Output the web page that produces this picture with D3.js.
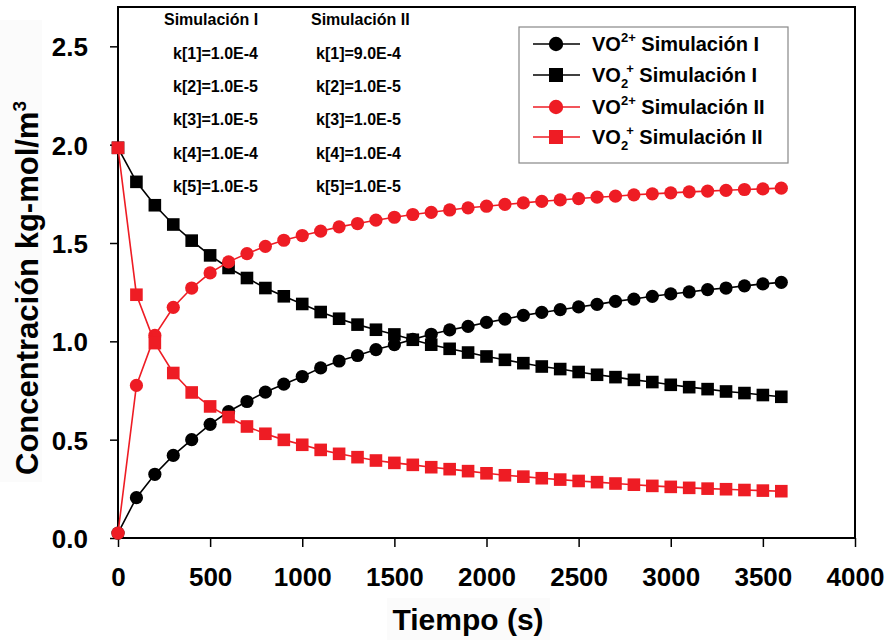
<!doctype html>
<html>
  <head>
    <script src="https://cdnjs.cloudflare.com/ajax/libs/d3/7.8.5/d3.min.js"></script>
    <style>
      body { margin: 0; background: #fff; }
      svg { font-family: "Liberation Sans", Arial, sans-serif; font-weight: bold; }
    </style>
  </head>
  <body>
    <svg width="890" height="640"></svg>

    <script>
        // tiempo (s)
        var tiempo = [0,100,200,300,400,500,600,700,800,900,1000,1100,1200,1300,1400,1500,1600,1700,1800,
                      1900,2000,2100,2200,2300,2400,2500,2600,2700,2800,2900,3000,3100,3200,3300,3400,3500,3600];

        // VO2+ Simulacion I (black circles)
        var vo2Sim1 = [0.025,0.205,0.324,0.42,0.50,0.578,0.643,0.694,0.742,0.782,0.821,0.865,0.900,0.928,0.958,0.983,
                       1.010,1.036,1.058,1.076,1.096,1.113,1.132,1.147,1.161,1.175,1.188,1.203,1.215,1.229,1.241,1.251,
                       1.263,1.271,1.282,1.292,1.30];
        // VO2+ (sub 2) Simulacion I (black squares)
        var vo2pSim1 = [1.984,1.811,1.692,1.594,1.512,1.437,1.373,1.322,1.271,1.229,1.19,1.149,1.115,1.085,1.059,1.035,
                        1.008,0.983,0.962,0.943,0.923,0.906,0.889,0.872,0.859,0.844,0.83,0.818,0.804,0.793,0.779,0.767,
                        0.757,0.745,0.737,0.727,0.718];
        // VO2+ Simulacion II (red circles)
        var vo2Sim2 = [0.025,0.776,1.03,1.173,1.271,1.348,1.404,1.446,1.483,1.514,1.538,1.56,1.582,1.599,1.616,1.631,
                       1.645,1.656,1.668,1.679,1.687,1.696,1.704,1.712,1.719,1.726,1.733,1.738,1.745,1.75,1.755,1.76,
                       1.764,1.768,1.772,1.775,1.779];
        // VO2+ (sub 2) Simulacion II (red squares)
        var vo2pSim2 = [1.984,1.237,0.991,0.839,0.74,0.669,0.615,0.567,0.53,0.499,0.474,0.448,0.428,0.411,0.394,0.382,
                        0.372,0.36,0.35,0.34,0.329,0.319,0.312,0.304,0.297,0.29,0.284,0.277,0.271,0.265,0.26,0.255,
                        0.251,0.248,0.244,0.241,0.238];

        var xTicks = [0,500,1000,1500,2000,2500,3000,3500,4000];
        var yTicks = [0,0.5,1.0,1.5,2.0,2.5];

        var simHeaders = ["Simulación I", "Simulación II"];
        var kSim1 = ["k[1]=1.0E-4","k[2]=1.0E-5","k[3]=1.0E-5","k[4]=1.0E-4","k[5]=1.0E-5"];
        var kSim2 = ["k[1]=9.0E-4","k[2]=1.0E-5","k[3]=1.0E-5","k[4]=1.0E-4","k[5]=1.0E-5"];

        var red = "#ee1c24";
        var series = [
            {vals: vo2Sim1,  color: "#000", shape: "circle", ion: "2+", sim: "Simulación I"},
            {vals: vo2pSim1, color: "#000", shape: "square", ion: "2,+", sim: "Simulación I"},
            {vals: vo2Sim2,  color: red,    shape: "circle", ion: "2+", sim: "Simulación II"},
            {vals: vo2pSim2, color: red,    shape: "square", ion: "2,+", sim: "Simulación II"}
        ];

        var svg = d3.select("svg");
        var pLeft = 118, pRight = 855, pTop = 7, pBottom = 538;

        var x = d3.scaleLinear().domain([0, 4000]).range([pLeft, pRight]);
        var y = d3.scaleLinear().domain([0, 2.7]).range([pBottom, pTop]);

        // faint boxes behind axis titles
        svg.append("rect").attr("x", 0).attr("y", 20).attr("width", 42).attr("height", 462).attr("fill", "#fbfbfb");
        svg.append("rect").attr("x", 387).attr("y", 598).attr("width", 163).attr("height", 42).attr("fill", "#fbfbfb");

        // axes
        var xAxis = svg.append("g").attr("transform", "translate(0," + pBottom + ")")
            .call(d3.axisBottom(x).tickValues(xTicks).tickSize(9).tickPadding(20).tickFormat(d3.format("d")));
        var yAxis = svg.append("g").attr("transform", "translate(" + pLeft + ",0)")
            .call(d3.axisLeft(y).tickValues(yTicks).tickSize(8).tickPadding(22).tickFormat(d3.format(".1f")));
        [xAxis, yAxis].forEach(function(a) {
            a.select(".domain").remove();
            a.selectAll("line").attr("stroke", "#000").attr("stroke-width", 1.5);
            a.selectAll("text").attr("fill", "#000").style("font-size", "26px")
             .style("font-family", "'Liberation Sans', Arial, sans-serif").style("font-weight", "bold");
        });
        xAxis.selectAll("text").attr("dy", "0.72em");
        yAxis.selectAll("text").attr("dy", "0.36em");

        // frame
        svg.append("rect").attr("x", pLeft).attr("y", pTop).attr("width", pRight - pLeft).attr("height", pBottom - pTop)
            .attr("fill", "none").attr("stroke", "#000").attr("stroke-width", 2);

        // axis titles
        svg.append("text").attr("x", 468).attr("y", 630).attr("text-anchor", "middle")
            .style("font-size", "30px").text("Tiempo (s)");
        var yt = svg.append("text").attr("transform", "translate(38,288) rotate(-90)")
            .attr("text-anchor", "middle").style("font-size", "31px");
        yt.append("tspan").text("Concentración kg-mol/m");
        yt.append("tspan").attr("dy", -12).style("font-size", "19px").text("3");

        // series
        var line = d3.line().x(function(d, i) { return x(tiempo[i]); }).y(function(d) { return y(d); });
        series.forEach(function(s) {
            svg.append("path").datum(s.vals).attr("d", line)
                .attr("fill", "none").attr("stroke", s.color).attr("stroke-width", 1.6);
            var g = svg.append("g").attr("fill", s.color);
            if (s.shape === "circle") {
                g.selectAll("circle").data(s.vals).enter().append("circle")
                    .attr("cx", function(d, i) { return x(tiempo[i]); })
                    .attr("cy", function(d) { return y(d); })
                    .attr("r", 6.6);
            } else {
                g.selectAll("rect").data(s.vals).enter().append("rect")
                    .attr("x", function(d, i) { return x(tiempo[i]) - 6.3; })
                    .attr("y", function(d) { return y(d) - 6.3; })
                    .attr("width", 12.6).attr("height", 12.6);
            }
        });

        // parameter table
        var colX = [164, 311], kX = [173, 316];
        simHeaders.forEach(function(h, c) {
            svg.append("text").attr("x", colX[c]).attr("y", 25).style("font-size", "16px").text(h);
            var ks = c === 0 ? kSim1 : kSim2;
            ks.forEach(function(k, i) {
                svg.append("text").attr("x", kX[c]).attr("y", 59 + i * 33.2).style("font-size", "16px").text(k);
            });
        });

        // legend
        var leg = svg.append("g");
        leg.append("rect").attr("x", 519).attr("y", 27).attr("width", 269).attr("height", 136)
            .attr("fill", "#fff").attr("stroke", "#888").attr("stroke-width", 1.2);
        var rowY = [44, 75, 107, 137];
        series.forEach(function(s, i) {
            var cy = rowY[i];
            leg.append("line").attr("x1", 533).attr("x2", 580).attr("y1", cy).attr("y2", cy)
                .attr("stroke", s.color).attr("stroke-width", 1.6);
            if (s.shape === "circle") {
                leg.append("circle").attr("cx", 556).attr("cy", cy).attr("r", 7.2).attr("fill", s.color);
            } else {
                leg.append("rect").attr("x", 549).attr("y", cy - 7).attr("width", 14).attr("height", 14).attr("fill", s.color);
            }
            var t = leg.append("text").attr("x", 592).attr("y", cy + 7).style("font-size", "20px");
            t.append("tspan").text("VO");
            if (s.ion === "2+") {
                t.append("tspan").attr("dy", -9).style("font-size", "13px").text("2+");
                t.append("tspan").attr("dy", 9).text(" " + s.sim);
            } else {
                t.append("tspan").attr("dy", 6).style("font-size", "13px").text("2");
                t.append("tspan").attr("dy", -15).attr("dx", -2).style("font-size", "13px").text("+");
                t.append("tspan").attr("dy", 9).text(" " + s.sim);
            }
        });
    </script>
  </body>
</html>
